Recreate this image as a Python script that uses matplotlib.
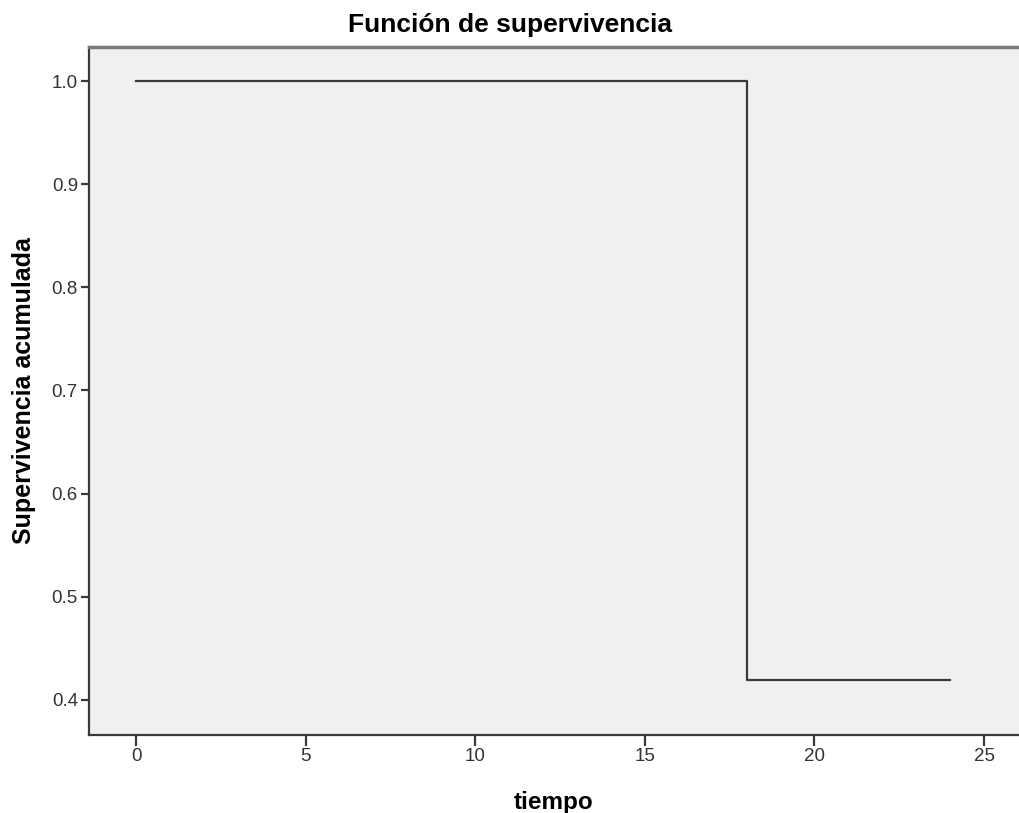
import matplotlib
matplotlib.use("Agg")
import matplotlib.pyplot as plt
from matplotlib.ticker import FormatStrFormatter

plt.rcParams['font.family'] = ['Liberation Sans', 'DejaVu Sans']

# Data: Kaplan-Meier step function
times = [0, 18, 24]
survival = [1.0, 0.419, 0.419]
x_ticks = [0, 5, 10, 15, 20, 25]
y_ticks = [0.4, 0.5, 0.6, 0.7, 0.8, 0.9, 1.0]

fig = plt.figure(figsize=(10.19, 8.13), dpi=100)
ax = fig.add_axes([89/1019, 78/813, 1 - 89/1019, (735-47)/813])
ax.set_facecolor('#f0f0f0')

ax.step(times, survival, where='post', color='#3a3a3a', lw=1.6)

ax.set_xlim(-1.39, 26.03)
ax.set_ylim(0.366, 1.033)
ax.set_xticks(x_ticks)
ax.set_yticks(y_ticks)
ax.yaxis.set_major_formatter(FormatStrFormatter('%.1f'))

ax.spines['right'].set_visible(False)
for side in ['left', 'bottom']:
    ax.spines[side].set_color('#3a3a3a')
    ax.spines[side].set_linewidth(1.6)
ax.spines['top'].set_color('#7a7a7a')
ax.spines['top'].set_linewidth(2.5)

ax.tick_params(axis='y', length=6, width=1.6, color='#3a3a3a', labelsize=13.5, labelcolor='#333333', pad=2)
ax.tick_params(axis='x', length=8, width=1.6, color='#3a3a3a', labelsize=13.5, labelcolor='#333333', pad=1)

ax.set_xlabel('tiempo', fontsize=17.5, fontweight='bold', labelpad=19)
ax.set_ylabel('Supervivencia acumulada', fontsize=18, fontweight='bold', labelpad=11)
fig.text(0.5, 1 - 25/813, 'Función de supervivencia', ha='center', va='center',
         fontsize=19, fontweight='bold')

fig.savefig('out.png', dpi=100)
